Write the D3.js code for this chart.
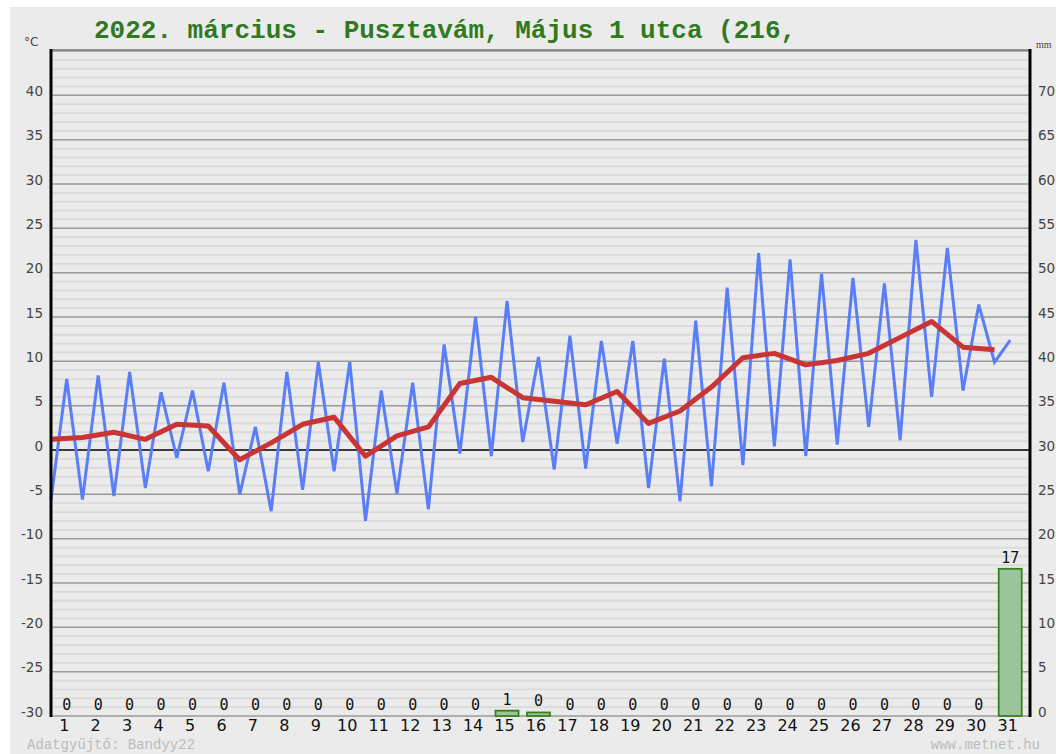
<!DOCTYPE html>
<html>
<head>
<meta charset="utf-8">
<script src="https://cdn.jsdelivr.net/npm/d3@7"></script>
<style>
  body { margin: 0; background: #fff; }
  svg { display: block; }
</style>
</head>
<body>
<script>
// napi adatok, 2022. marcius
const days = d3.range(1, 32)
const tMin = [-5.6, -5.6, -5.2, -4.3, -0.9, -2.4, -5.0, -6.9, -4.5, -2.4,
  -8.0, -4.9, -6.7, -0.4, -0.7, 0.9, -2.2, -2.1, 0.7, -4.3,
  -5.8, -4.1, -1.7, 0.4, -0.7, 0.6, 2.6, 1.1, 6.0, 6.7, 9.9]
const tMax = [8.0, 8.4, 8.8, 6.5, 6.7, 7.6, 2.6, 8.8, 9.9, 9.9,
  6.7, 7.6, 11.9, 15.0, 16.8, 10.5, 12.9, 12.3, 12.3, 10.3,
  14.6, 18.3, 22.2, 21.5, 19.9, 19.4, 18.8, 23.7, 22.8, 16.4, 12.4]
const tMean = [1.2, 1.4, 2.0, 1.2, 2.9, 2.7, -1.1, 0.8, 2.9, 3.7,
  -0.7, 1.6, 2.6, 7.5, 8.2, 5.9, 5.5, 5.1, 6.6, 3.0,
  4.4, 7.1, 10.4, 10.9, 9.6, 10.1, 10.9, 12.7, 14.5, 11.6, 11.3]
const precip = [0, 0, 0, 0, 0, 0, 0, 0, 0, 0,
  0, 0, 0, 0, 0.6, 0.4, 0, 0, 0, 0,
  0, 0, 0, 0, 0, 0, 0, 0, 0, 0, 16.6]
const tempTicks = d3.range(-30, 41, 5)
const mmTicks = d3.range(0, 71, 5)

const W = 1056, H = 754
const pLeft = 51, pRight = 1030, pTop = 51, pBottom = 716
const step = 31.45

const svg = d3.select('body').append('svg')
  .attr('width', W)
  .attr('height', H)

svg.append('rect')
  .attr('x', 10).attr('y', 7)
  .attr('width', W - 10).attr('height', H - 7)
  .attr('fill', '#ebebeb')

const x = d3.scaleLinear().domain([1, 32]).range([pLeft, pLeft + 31 * step])
const y = d3.scaleLinear().domain([-30, 45]).range([pBottom, pTop])
const yMm = d3.scaleLinear().domain([0, 75]).range([pBottom, pTop])

// racsvonalak
svg.append('g').selectAll('line')
  .data(d3.range(-30, 45, 1).filter(v => v % 5 !== 0))
  .join('line')
  .attr('x1', pLeft).attr('x2', pRight)
  .attr('y1', d => y(d)).attr('y2', d => y(d))
  .attr('stroke', '#dadada')
  .attr('stroke-width', 1.8)

svg.append('g').selectAll('line')
  .data(tempTicks.concat([45]).filter(v => v !== 0))
  .join('line')
  .attr('x1', pLeft).attr('x2', pRight)
  .attr('y1', d => y(d)).attr('y2', d => y(d))
  .attr('stroke', '#9a9a9a')
  .attr('stroke-width', 1.5)

svg.append('line')
  .attr('x1', pLeft).attr('x2', pRight)
  .attr('y1', y(0)).attr('y2', y(0))
  .attr('stroke', '#000')
  .attr('stroke-width', 1.6)

// csapadek oszlopok
const bw = 23
svg.append('g').selectAll('rect')
  .data(days)
  .join('rect')
  .attr('x', d => x(d + 0.5) - bw / 2)
  .attr('y', d => yMm(precip[d - 1]))
  .attr('width', bw)
  .attr('height', d => yMm(0) - yMm(precip[d - 1]))
  .attr('fill', '#9ac59b')
  .attr('stroke', '#3c7f1e')
  .attr('stroke-width', 1.8)

svg.append('g').selectAll('text')
  .data(days)
  .join('text')
  .attr('x', d => x(d + 0.5))
  .attr('y', d => yMm(precip[d - 1]) - 6)
  .attr('text-anchor', 'middle')
  .attr('font-family', '"DejaVu Sans Mono", monospace')
  .attr('font-size', 15)
  .attr('fill', '#111')
  .text(d => Math.round(precip[d - 1]))

// min/max homerseklet
const mmPts = []
days.forEach(d => {
  mmPts.push([x(d), y(tMin[d - 1])])
  mmPts.push([x(d + 0.5), y(tMax[d - 1])])
})
svg.append('path')
  .attr('d', d3.line()(mmPts))
  .attr('fill', 'none')
  .attr('stroke', '#5a7ef8')
  .attr('stroke-width', 3)
  .attr('stroke-linejoin', 'miter')

// napi kozep
svg.append('path')
  .datum(days)
  .attr('d', d3.line().x(d => x(d)).y(d => y(tMean[d - 1])))
  .attr('fill', 'none')
  .attr('stroke', '#c93434')
  .attr('stroke-width', 5)
  .attr('stroke-linejoin', 'round')

// keret es tengelyek
svg.append('line')
  .attr('x1', pLeft).attr('x2', pRight)
  .attr('y1', pTop - 1).attr('y2', pTop - 1)
  .attr('stroke', '#777').attr('stroke-width', 1.5)
svg.append('line')
  .attr('x1', pLeft).attr('x2', pLeft)
  .attr('y1', pTop - 2).attr('y2', pBottom + 1)
  .attr('stroke', '#000').attr('stroke-width', 3)
svg.append('line')
  .attr('x1', pRight).attr('x2', pRight)
  .attr('y1', pTop - 2).attr('y2', pBottom + 1)
  .attr('stroke', '#000').attr('stroke-width', 3)

const yAxis = svg.append('g')
  .attr('transform', `translate(${pLeft - 5},-4)`)
  .call(d3.axisLeft(y).tickValues(tempTicks).tickSize(0).tickFormat(d => d))
yAxis.select('.domain').remove()
yAxis.selectAll('text')
  .attr('font-family', '"DejaVu Sans", sans-serif')
  .attr('font-size', 13.5)
  .attr('fill', '#444')

const mmAxis = svg.append('g')
  .attr('transform', `translate(${pRight + 5},-4)`)
  .call(d3.axisRight(yMm).tickValues(mmTicks).tickSize(0))
mmAxis.select('.domain').remove()
mmAxis.selectAll('text')
  .attr('font-family', '"DejaVu Sans", sans-serif')
  .attr('font-size', 13.5)
  .attr('fill', '#444')

const xAxis = svg.append('g')
  .attr('transform', `translate(-3,${pBottom + 1})`)
  .call(d3.axisBottom(x).tickValues(days.map(d => d + 0.5)).tickSize(0)
    .tickFormat(d => Math.floor(d)))
xAxis.select('.domain').remove()
xAxis.selectAll('text')
  .attr('font-family', '"DejaVu Sans", sans-serif')
  .attr('font-size', 16)
  .attr('fill', '#111')

// feliratok
svg.append('text')
  .attr('x', 24).attr('y', 46)
  .attr('font-family', '"DejaVu Sans", sans-serif')
  .attr('font-size', 12)
  .attr('fill', '#444')
  .text('°C')

svg.append('text')
  .attr('x', 1036).attr('y', 48)
  .attr('font-family', '"Liberation Serif", serif')
  .attr('font-size', 10)
  .attr('fill', '#444')
  .text('mm')

svg.append('text')
  .attr('x', 94).attr('y', 38)
  .attr('font-family', '"Liberation Mono", monospace')
  .attr('font-weight', 'bold')
  .attr('font-size', 26)
  .attr('fill', '#2f7a1f')
  .text('2022. március - Pusztavám, Május 1 utca (216,')

svg.append('text')
  .attr('x', 27).attr('y', 749)
  .attr('font-family', '"Liberation Mono", monospace')
  .attr('font-size', 14)
  .attr('fill', '#bbb')
  .text('Adatgyűjtő: Bandyy22')

svg.append('text')
  .attr('x', 1040).attr('y', 749)
  .attr('text-anchor', 'end')
  .attr('font-family', '"Liberation Mono", monospace')
  .attr('font-size', 14)
  .attr('fill', '#bbb')
  .text('www.metnet.hu')
</script>
</body>
</html>
